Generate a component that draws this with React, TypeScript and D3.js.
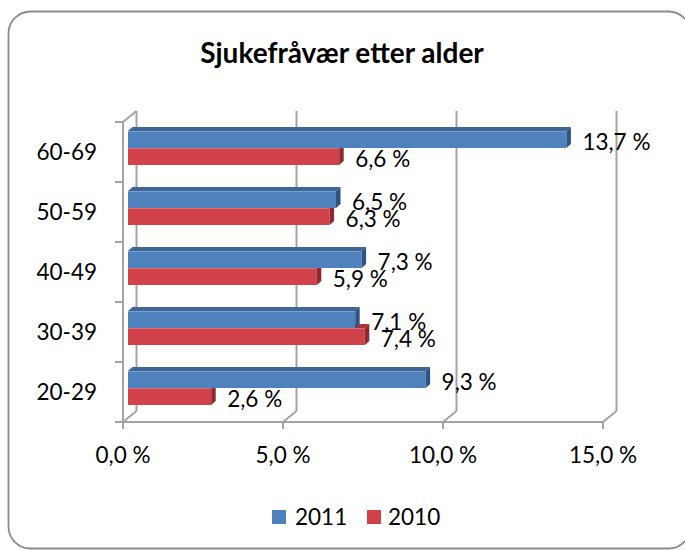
import React from "react";
import * as d3 from "d3";

const categories = ["20-29", "30-39", "40-49", "50-59", "60-69"];
const seriesNames = ["2011", "2010"];
const values2011 = [9.3, 7.1, 7.3, 6.5, 13.7];
const values2010 = [2.6, 7.4, 5.9, 6.3, 6.6];
const xTicks = [0, 5, 10, 15];
const title = "Sjukefråvær etter alder";

const W = 685;
const H = 550;
const FONT = "Lato, 'Open Sans', sans-serif";

const fmt = (v: number) => v.toFixed(1).replace(".", ",") + " %";

export default function App() {
  const xFront = d3.scaleLinear().domain([0, 15]).range([123, 603]);
  const depth = { dx: 13.5, dy: -11 };
  const xBack = (v: number) => xFront(v) + depth.dx;
  const xBar = d3.scaleLinear().domain([0, 15]).range([128, 608]);
  const yBand = d3
    .scaleBand<string>()
    .domain([...categories].reverse())
    .range([122, 422])
    .padding(0);
  const yTop = 122;
  const yBottom = 422;
  const bw = yBand.bandwidth();
  const barOff = 9;
  const barH = 17;
  const bdx = 4.5;
  const bdy = -4;

  const colors = {
    blue: { front: "#4F81BD", top: "#3E6696", side: "#2F5383" },
    red: { front: "#D0414A", top: "#A5343A", side: "#8C2A2F" },
  };

  const gridColor = "#A3A3A3";

  const drawBar = (
    key: string,
    x0: number,
    x1: number,
    yt: number,
    c: { front: string; top: string; side: string }
  ) => {
    const yb = yt + barH;
    const top = `M${x0},${yt} L${x1},${yt} L${x1 + bdx},${yt + bdy} L${x0 + bdx},${yt + bdy} Z`;
    const side = `M${x1},${yt} L${x1 + bdx},${yt + bdy} L${x1 + bdx},${yb + bdy} L${x1},${yb} Z`;
    return (
      <g key={key}>
        <rect x={x0} y={yt} width={x1 - x0} height={barH} fill={c.front} />
        <line x1={x0} x2={x1} y1={yt + 0.5} y2={yt + 0.5} stroke="#ffffff" strokeOpacity={0.25} />
        <path d={top} fill={c.top} />
        <path d={side} fill={c.side} />
      </g>
    );
  };

  return (
    <svg
      width={W}
      height={H}
      style={{ position: "absolute", left: 0, top: 0, background: "#fff" }}
      fontFamily={FONT}
    >
      <rect x={8.5} y={11.5} width={682} height={537} rx={22} ry={22} fill="#fff" stroke="#8a8a8a" strokeWidth={1.8} />
      <text x={342} y={63} textAnchor="middle" fontSize={28} fontWeight="bold" fill="#000">
        {title}
      </text>

      {xTicks.map((t) => (
        <g key={"g" + t}>
          <line x1={xBack(t)} x2={xBack(t)} y1={yTop + depth.dy} y2={yBottom + depth.dy} stroke={gridColor} strokeWidth={2} />
          <line x1={xBack(t)} x2={xFront(t)} y1={yBottom + depth.dy} y2={yBottom} stroke={gridColor} strokeWidth={2} />
        </g>
      ))}
      <line x1={xFront(0)} x2={xFront(0)} y1={yTop} y2={yBottom} stroke={gridColor} strokeWidth={2} />
      <line x1={xFront(0)} x2={xBack(0)} y1={yTop} y2={yTop + depth.dy} stroke={gridColor} strokeWidth={2} />
      <line x1={xFront(0)} x2={xFront(15)} y1={yBottom} y2={yBottom} stroke={gridColor} strokeWidth={2} />
      {d3.range(categories.length + 1).map((i) => (
        <line key={"yt" + i} x1={115} x2={xFront(0)} y1={yTop + i * bw} y2={yTop + i * bw} stroke={gridColor} strokeWidth={2} />
      ))}
      {xTicks.map((t) => (
        <g key={"xt" + t}>
          <line x1={xFront(t)} x2={xFront(t)} y1={yBottom} y2={yBottom + 7} stroke={gridColor} strokeWidth={2} />
          <text x={xFront(t)} y={463} textAnchor="middle" fontSize={22.5} fill="#000">
            {fmt(t)}
          </text>
        </g>
      ))}
      {categories.map((c) => (
        <text key={"c" + c} x={97} y={(yBand(c) as number) + bw / 2 + 8} textAnchor="end" fontSize={22.5} fill="#000">
          {c}
        </text>
      ))}

      {categories.map((c, i) => {
        const b = yBand(c) as number;
        const ytBlue = b + barOff;
        const ytRed = ytBlue + barH;
        return (
          <g key={"b" + c}>
            {drawBar("r", xBar(0), xBar(values2010[i]), ytRed, colors.red)}
            {drawBar("bl", xBar(0), xBar(values2011[i]), ytBlue, colors.blue)}
          </g>
        );
      })}

      {categories.map((c, i) => {
        const b = yBand(c) as number;
        const ytBlue = b + barOff;
        const ytRed = ytBlue + barH;
        return (
          <g key={"l" + c}>
            <text x={xBar(values2011[i]) + 16} y={ytBlue + barH / 2 + 10} fontSize={22.5} fill="#000">
              {fmt(values2011[i])}
            </text>
            <text x={xBar(values2010[i]) + 16} y={ytRed + barH / 2 + 10} fontSize={22.5} fill="#000">
              {fmt(values2010[i])}
            </text>
          </g>
        );
      })}

      <rect x={272} y={510} width={14} height={14} fill={colors.blue.front} />
      <text x={295} y={525} fontSize={22.5} fill="#000">
        {seriesNames[0]}
      </text>
      <rect x={367} y={510} width={14} height={14} fill={colors.red.front} />
      <text x={388} y={525} fontSize={22.5} fill="#000">
        {seriesNames[1]}
      </text>
    </svg>
  );
}
